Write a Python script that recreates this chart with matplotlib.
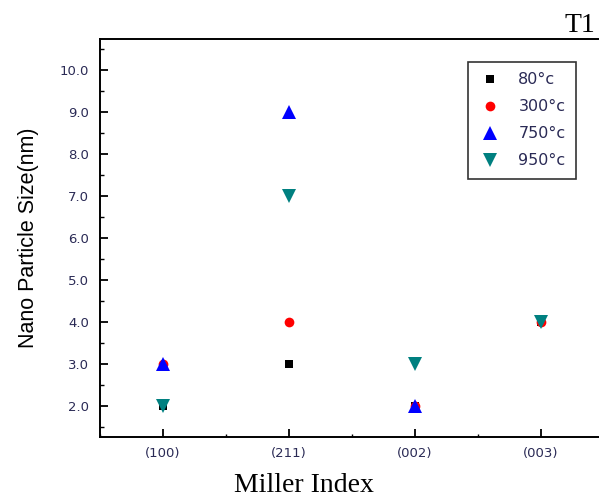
import numpy as np
import matplotlib
matplotlib.use("Agg")
import matplotlib.pyplot as plt
from matplotlib.ticker import MultipleLocator

# data
miller = ["(100)", "(211)", "(002)", "(003)"]
temps = ["80°c", "300°c", "750°c", "950°c"]
size_80 = [2.0, 3.0, 2.0, 4.0]
size_300 = [3.0, 4.0, 2.0, 4.0]
size_750 = [3.0, 9.0, 2.0, np.nan]
size_950 = [2.0, 7.0, 3.0, 4.0]

series = [size_80, size_300, size_750, size_950]
markers = ["s", "o", "^", "v"]
colors = ["#000000", "#ff0000", "#0000ff", "#008080"]
msizes = [5.5, 7, 9.5, 9.5]

tick_color = "#2a2a55"

fig = plt.figure(figsize=(5.99, 5.0), dpi=100)
ax = fig.add_axes([100 / 599, 63 / 500, 504 / 599, 398 / 500])

x = np.arange(1, len(miller) + 1)
for vals, lab, m, c, ms in zip(series, temps, markers, colors, msizes):
    ax.plot(x, vals, linestyle="none", marker=m, color=c, markersize=ms,
            markeredgewidth=0, label=lab)

ax.set_xlim(0.5, 4.5)
ax.set_ylim(1.25, 10.75)
ax.set_xticks(x)
ax.set_xticklabels(miller)
ax.xaxis.set_minor_locator(MultipleLocator(0.5))
ax.yaxis.set_minor_locator(MultipleLocator(0.5))
ax.set_yticks(np.arange(2, 11))
ax.set_yticklabels([f"{v:.1f}" for v in np.arange(2, 11)])

ax.tick_params(which="major", direction="in", length=6, width=1.3,
               labelsize=9.5, labelcolor=tick_color, pad=8)
ax.tick_params(axis="x", which="major", pad=7)
ax.tick_params(which="minor", direction="in", length=3, width=1.0)
ax.tick_params(axis="x", which="minor", length=2)
for sp in ax.spines.values():
    sp.set_linewidth(1.4)

ax.set_ylabel("Nano Particle Size(nm)", fontsize=15.5, fontfamily="Liberation Sans",
              labelpad=15)
fig.text(304 / 599, 1 - 486 / 500, "Miller Index", fontsize=20,
         fontfamily="Liberation Serif", ha="center", va="center")
fig.text(580 / 599, 1 - 26 / 500, "T1", fontsize=20, fontfamily="Liberation Serif",
         ha="center", va="center")

leg = ax.legend(loc="upper left", bbox_to_anchor=(368 / 504, 1 - 23 / 398),
                frameon=True, fancybox=False, edgecolor="black", fontsize=11.5,
                handletextpad=1.0, labelspacing=0.75, borderpad=0.65,
                handlelength=1.5, borderaxespad=0)
leg.get_frame().set_linewidth(1.2)
for t in leg.get_texts():
    t.set_color(tick_color)

fig.savefig("out.png", dpi=100)
